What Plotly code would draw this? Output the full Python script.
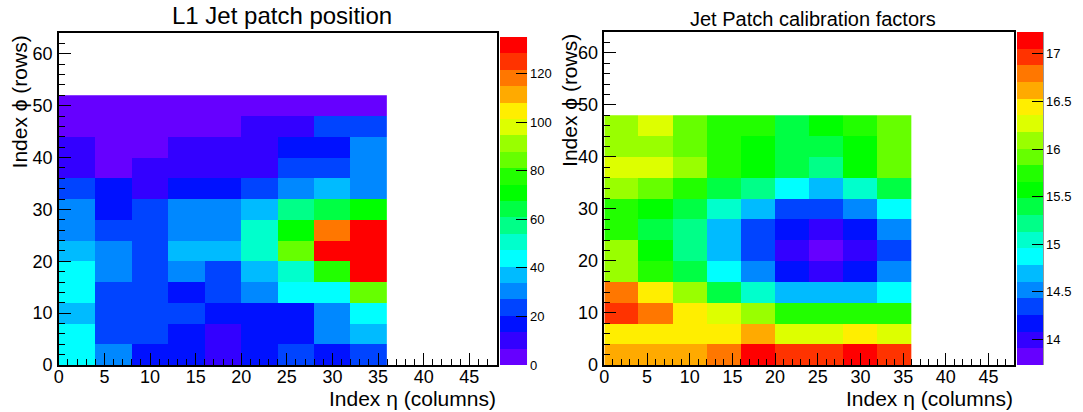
import plotly.graph_objects as go

# ---------------- data ----------------
# bin edges (4 units per bin)
x_edges_left = [0, 4, 8, 12, 16, 20, 24, 28, 32, 36]
y_edges_left = [0, 4, 8, 12, 16, 20, 24, 28, 32, 36, 40, 44, 48, 52]
x_edges_right = [0, 4, 8, 12, 16, 20, 24, 28, 32, 36]
y_edges_right = [0, 4, 8, 12, 16, 20, 24, 28, 32, 36, 40, 44, 48]

# L1 Jet patch position (counts); rows from phi=0 upward, columns eta=0..36
jet_counts = [
    [44, 30, 17, 16, 10, 18, 24, 17, 23],
    [45, 24, 25, 18, 9, 17, 19, 31, 38],
    [38, 23, 24, 22, 16, 17, 18, 29, 43],
    [46, 25, 23, 15, 22, 30, 42, 45, 85],
    [44, 31, 24, 30, 22, 36, 50, 77, 133],
    [37, 29, 23, 38, 37, 51, 84, 130, 135],
    [32, 25, 24, 31, 30, 49, 72, 118, 131],
    [31, 17, 23, 30, 31, 35, 56, 63, 70],
    [22, 16, 10, 17, 18, 23, 29, 37, 30],
    [10, 4, 11, 9, 10, 11, 23, 22, 30],
    [9, 5, 4, 10, 10, 11, 15, 16, 31],
    [3, 4, 2, 5, 4, 8, 9, 24, 22],
    [2, 3, 2, 3, 3, 3, 2, 2, 3],
]

# Jet Patch calibration factors
calib = [
    [16.60, 16.63, 16.58, 16.80, 17.23, 16.95, 16.99, 17.15, 16.97],
    [16.43, 16.46, 16.45, 16.40, 16.61, 16.25, 16.28, 16.42, 16.27],
    [16.98, 16.78, 16.44, 16.30, 16.10, 15.73, 15.75, 15.72, 15.76],
    [16.82, 16.47, 16.12, 15.40, 15.05, 14.70, 14.68, 14.71, 14.88],
    [16.08, 15.75, 15.38, 14.86, 14.50, 14.15, 13.98, 14.12, 14.53],
    [16.10, 15.58, 15.21, 14.70, 14.35, 14.00, 13.73, 13.97, 14.33],
    [15.77, 15.40, 15.20, 14.72, 14.34, 14.18, 14.02, 14.20, 14.55],
    [15.70, 15.55, 15.36, 15.03, 14.69, 14.36, 14.38, 14.50, 14.85],
    [16.07, 15.90, 15.75, 15.41, 15.25, 14.90, 14.72, 15.05, 15.37],
    [16.25, 16.28, 16.10, 15.72, 15.60, 15.42, 15.26, 15.58, 15.90],
    [16.05, 16.09, 15.93, 15.74, 15.56, 15.39, 15.44, 15.62, 15.95],
    [16.06, 16.24, 15.92, 15.78, 15.70, 15.36, 15.57, 15.73, 15.88],
]

left_zrange = [0, 135]
right_zrange = [13.73, 17.23]
left_cb_ticks = [0, 20, 40, 60, 80, 100, 120]
right_cb_ticks = [14, 14.5, 15, 15.5, 16, 16.5, 17]
right_cb_ticktext = ["14", "14.5", "15", "15.5", "16", "16.5", "17"]

# ---------------- style ----------------
palette = ["#6600ff", "#3300ff", "#0011ff", "#0044ff", "#0088ff", "#00bbff",
           "#00ffff", "#00ffcc", "#00ff88", "#00ff44", "#00ff00", "#22ff00",
           "#66ff00", "#99ff00", "#ddff00", "#ffee00", "#ffaa00", "#ff7700",
           "#ff3300", "#ff0000"]
n = len(palette)
cscale = []
for i, c in enumerate(palette):
    cscale.append([i / n, c])
    cscale.append([(i + 1) / n, c])

W, H = 1083, 412
FONT = "Liberation Sans, Arial, Helvetica, sans-serif"

def px_x(p):
    return p / W

def px_y(p):
    return 1 - p / H

L = dict(x0=59, x1=498, y0=33, y1=365)
R = dict(x0=606, x1=1017, y0=32, y1=365)

fig = go.Figure()

cb_common = dict(xanchor="left", xpad=0, yanchor="bottom", ypad=0,
                 thicknessmode="pixels", lenmode="pixels", outlinewidth=0,
                 ticks="inside", ticklen=11, tickwidth=1, tickcolor="black",
                 tickprefix="\u2009\u2009",
                 tickfont=dict(family=FONT, size=13, color="black"))

fig.add_trace(go.Heatmap(
    x=x_edges_left, y=y_edges_left, z=jet_counts,
    zmin=left_zrange[0], zmax=left_zrange[1], colorscale=cscale,
    xaxis="x", yaxis="y", hoverinfo="x+y+z",
    colorbar=dict(x=px_x(501), y=px_y(365), len=328, thickness=27,
                  tickvals=left_cb_ticks, **cb_common),
))

fig.add_trace(go.Heatmap(
    x=x_edges_right, y=y_edges_right, z=calib,
    zmin=right_zrange[0], zmax=right_zrange[1], colorscale=cscale,
    xaxis="x2", yaxis="y2", hoverinfo="x+y+z",
    colorbar=dict(x=px_x(1020), y=px_y(365), len=333, thickness=26,
                  tickvals=right_cb_ticks, ticktext=right_cb_ticktext, **cb_common),
))

def xax(dom):
    return dict(domain=dom, range=[0, 48], tickvals=[0, 5, 10, 15, 20, 25, 30, 35, 40, 45],
                ticks="inside", ticklen=12, tickwidth=1, tickcolor="black",
                minor=dict(dtick=1, ticks="inside", ticklen=6, tickcolor="black", tickwidth=1),
                showline=True, mirror=True, linecolor="black", linewidth=1.5,
                showgrid=False, zeroline=False, automargin=False,
                tickfont=dict(family=FONT, size=18, color="black"), ticklabelstandoff=-5)

def yax(dom, anchor):
    return dict(domain=dom, range=[0, 64], tickvals=[0, 10, 20, 30, 40, 50, 60],
                ticks="inside", ticklen=12, tickwidth=1, tickcolor="black",
                minor=dict(dtick=2, ticks="inside", ticklen=6, tickcolor="black", tickwidth=1),
                showline=True, mirror=True, linecolor="black", linewidth=1.5,
                showgrid=False, zeroline=False, automargin=False, anchor=anchor,
                tickfont=dict(family=FONT, size=18, color="black"), ticklabelstandoff=1)

fig.update_layout(
    width=W, height=H, margin=dict(l=0, r=0, t=0, b=0),
    paper_bgcolor="white", plot_bgcolor="white", showlegend=False,
    xaxis=dict(**xax([px_x(L["x0"]), px_x(L["x1"])]), anchor="y"),
    yaxis=yax([px_y(L["y1"]), px_y(L["y0"])], "x"),
    xaxis2=dict(**xax([px_x(R["x0"]), px_x(R["x1"])]), anchor="y2"),
    yaxis2=yax([px_y(R["y1"]), px_y(R["y0"])], "x2"),
)

ann = []
ann.append(dict(text="L1 Jet patch position", x=px_x(283), y=px_y(16), xref="paper", yref="paper",
                showarrow=False, xanchor="center", yanchor="middle",
                font=dict(family=FONT, size=24, color="black")))
ann.append(dict(text="Jet Patch calibration factors", x=px_x(815), y=px_y(19), xref="paper", yref="paper",
                showarrow=False, xanchor="center", yanchor="middle",
                font=dict(family=FONT, size=20, color="black")))
for xr, ycen in [(L["x1"], 398), (R["x1"], 398)]:
    ann.append(dict(text="Index η (columns)", x=px_x(xr + 1), y=px_y(ycen), xref="paper", yref="paper",
                    showarrow=False, xanchor="right", yanchor="middle",
                    font=dict(family=FONT, size=21, color="black")))
for xc, yt in [(20, 33), (571, 32)]:
    ann.append(dict(text="Index ϕ (rows)", x=px_x(xc), y=px_y(yt), xref="paper", yref="paper",
                    showarrow=False, xanchor="center", yanchor="top", textangle=-90,
                    font=dict(family=FONT, size=21, color="black")))
fig.update_layout(annotations=ann)

# palette axis lines
shapes = []
for xr, yt in [(528, 37), (1046, 32)]:
    shapes.append(dict(type="line", xref="paper", yref="paper",
                       x0=px_x(xr), x1=px_x(xr), y0=px_y(365), y1=px_y(yt),
                       line=dict(color="#555555", width=1)))
fig.update_layout(shapes=shapes)

fig.write_html("out.html", config={"displayModeBar": False},
               post_script="document.body.style.margin='0';document.body.style.overflow='hidden';")
